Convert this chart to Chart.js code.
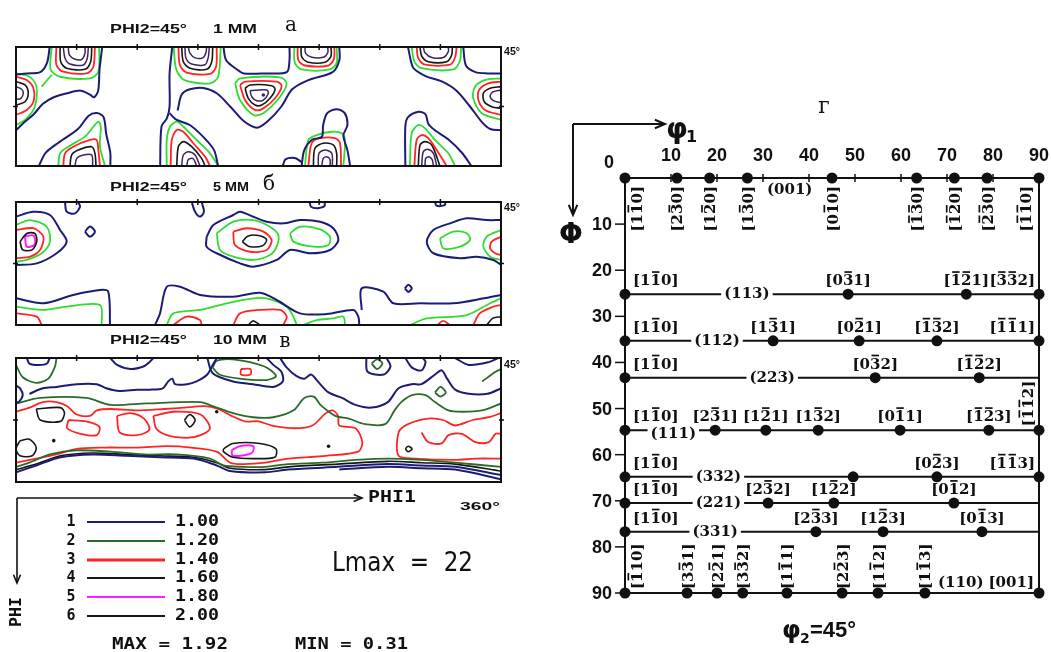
<!DOCTYPE html>
<html>
<head>
<meta charset="utf-8">
<script src="https://cdn.jsdelivr.net/npm/chart.js@4.4.1/dist/chart.umd.min.js"></script>
<style>
  html, body { margin: 0; padding: 0; background: #fff; }
  #wrap { position: relative; width: 1051px; height: 652px; overflow: hidden; background: #fff; }
  #wrap canvas { position: absolute; left: 0; top: 0; }
</style>
</head>
<body>
<div id="wrap">
  <canvas id="odfA" width="1051" height="652"></canvas>
  <canvas id="odfB" width="1051" height="652"></canvas>
  <canvas id="odfC" width="1051" height="652"></canvas>
  <canvas id="scheme" width="1051" height="652"></canvas>
</div>
<script>
// ===== ODF sections, phi2 = 45°, contour lines as [phi1, PHI] in degrees =====

// --- 1 mm ---
const a_level1 = [
  [[0,21],[8,20],[18,19],[23,12],[25,0]],
  [[0,63],[5,58],[13,51],[20,43],[28,38],[38,35],[48,33],[55,36],[58,38],[61,33],[62,17],[64,0]],
  [[116,0],[114,20],[114,45],[112,54],[108,60],[107,90]],
  [[114,50],[119,55],[129,59],[139,68],[147,78],[150,90]],
  [[154,0],[156,10],[164,17],[169,20],[185,20],[201,19],[203,10],[203,0]],
  [[120,48],[123,36],[129,32],[139,31],[149,35],[159,45],[169,56],[179,61],[187,56],[197,45],[205,32],[217,25],[235,19],[240,10],[240,0]],
  [[291,0],[293,10],[295,16],[304,22],[316,26],[327,33],[337,45],[346,57],[352,62],[360,63]],
  [[332,0],[334,14],[341,19],[350,20],[360,20]],
  [[17,90],[22,80],[32,72],[46,62],[54,52],[60,50],[65,53],[67,66],[70,80],[70,90]],
  [[212,90],[214,78],[220,70],[227,68],[228,59],[231,50],[238,47],[244,50],[246,59],[243,67],[246,78],[248,90]],
  [[198,90],[200,85],[207,84],[212,87]],
  [[289,90],[289,60],[291,53],[299,49],[304,51],[306,58],[311,63],[321,70],[331,80],[338,90]]
];
const a_level2 = [
  [[26.5,0],[25.7,17],[32.7,22.5],[54.9,23.7],[61.1,18.7],[61.8,0]],
  [[19,30],[26.5,21]],
  [[0,20],[9,22],[15,29],[14,45],[7,55],[0,59]],
  [[117,0],[119,17],[125,25],[144,27.5],[150,22.5],[152,0]],
  [[162.6,27.5],[166.3,23.7],[196,22.9],[200.9,27.5],[196,37.6],[183.6,50.1],[176.2,51.4],[166.3,40.1],[162.6,27.5]],
  [[206.6,0],[207,12],[212,17],[233,17],[238,12],[238,0]],
  [[293.7,0],[295.7,11],[301,16],[324.6,17],[329.6,10],[330.3,0]],
  [[360,23.7],[348,25],[340.7,30],[339.4,38.8],[345.7,50.1],[360,55.2]],
  [[31.4,90],[32.7,80.4],[38.8,75.4],[51.2,67.8],[57.4,60.3],[61.1,56.5],[62.9,60.3],[62.3,75.4],[66.1,90]],
  [[111.9,90],[111.9,70.3],[114.3,60.3],[119.3,56.5],[124.2,60.3],[134.1,70.3],[144,80.4],[150.2,90]],
  [[214.5,90],[217,70.3],[223.2,66.6],[234.4,64.1],[241.8,65.3],[244.2,70.3],[243,90]],
  [[292.4,90],[293.7,65.3],[298.6,59],[303.6,61.5],[311,70.3],[320.9,80.4],[325.9,90]]
];
const a_level3 = [
  [[30,0],[30,13.6],[35,18.7],[52.5,19.9],[57.4,14.9],[58.6,0]],
  [[0,22.4],[7.9,25],[12.9,31.2],[12.9,41.4],[7.9,47.6],[0,51.4]],
  [[120.5,0],[121.7,13.6],[126.7,19.4],[144,20.4],[148.5,14.9],[149,0]],
  [[166.3,28.7],[170,26.2],[193.5,26.2],[197.2,29.5],[192.3,38.8],[183.6,46.4],[177.4,47.6],[170,40.1],[166.3,28.7]],
  [[209,0],[209.6,10],[214.5,14],[231.8,14],[236,9],[236.3,0]],
  [[297.4,0],[298.6,8.5],[303.6,13.4],[322.2,13.4],[325.9,7.9],[327.1,0]],
  [[360,26.2],[350.6,27.5],[343.7,32.5],[343.2,40.1],[348.1,47.6],[360,51.4]],
  [[35.1,90],[36.4,80.4],[42.5,75.4],[54.9,70.3],[59.9,70.3],[61.1,77.9],[62.3,90]],
  [[114.8,90],[115.6,70.3],[119.3,62.8],[124.2,64.1],[131.6,72.8],[140.3,82.9],[144,90]],
  [[217,90],[219.5,72.8],[225.7,69],[236.8,69],[240.5,72.8],[241.3,90]],
  [[295.7,90],[297.4,70.3],[301.1,66.6],[306,69],[312.3,77.9],[319.7,90]]
];
const a_level4 = [
  [[32.7,0],[33.2,11.1],[37.6,16.1],[51.2,16.9],[55.4,11.1],[56.2,0]],
  [[0,26.2],[6.7,28.7],[9.1,35],[6.7,41.4],[0,43.9]],
  [[123,0],[124.2,11.1],[129.2,16.1],[141.5,16.9],[145.3,11.1],[146,0]],
  [[170,31.2],[173.7,28.7],[189.8,29.3],[192.3,32],[188.5,38.8],[182.4,43.9],[177.4,43.9],[172.4,38.8],[170,31.2]],
  [[211.6,0],[212.1,7.5],[217,11.5],[229.4,11.5],[233.8,7],[233.8,0]],
  [[299.9,0],[301.1,6.8],[306,11.1],[319.7,11.1],[323.4,6],[323.9,0]],
  [[360,30],[351.9,31.2],[346.9,35],[347.6,41.4],[353.1,45.1],[360,46.4]],
  [[40.1,90],[41.3,81.7],[46.2,77.9],[56.2,75.4],[58.6,80.4],[59.4,90]],
  [[119.3,90],[120.5,75.4],[124.2,71.6],[130.4,75.4],[137.8,84.2],[140.3,90]],
  [[220.7,90],[221.9,76.6],[228.1,72.8],[235.5,74.1],[238,80.4],[238,90]],
  [[298.6,90],[299.9,74.1],[303.6,71.6],[308.6,74.1],[314.7,90]]
];
const a_level6 = [
  [[35.1,0],[36.4,8.5],[40.1,12.9],[50,13.6],[52.9,8.5],[53.7,0]],
  [[38.8,0],[39.6,6],[43.8,9.3],[48.8,9.3],[51.2,4.8],[51.2,0]],
  [[0,30],[4.2,32],[5.4,35],[3.7,38.8],[0,39.6]],
  [[125.4,0],[126.2,8.5],[130.4,12.9],[140.3,13.4],[142.7,7.9],[143.5,0]],
  [[127.9,0],[129.2,4.9],[132.9,8.2],[138.6,8.2],[141,4.3],[141.5,0]],
  [[173.7,33],[186.1,32.5],[187.3,35],[183.6,40.1],[178.7,40.6],[175,37.6],[173.7,33]],
  [[214.5,0],[215,4.8],[219.5,7.8],[228.1,7.8],[231.4,4.3],[231.4,0]],
  [[302.3,0],[303.6,4.3],[308.6,7.9],[317.2,7.9],[320.9,3.5],[320.9,0]],
  [[360,32.5],[354.3,33.8],[351.9,37.1],[354.3,40.6],[360,42.1]],
  [[43.8,90],[45.1,84.2],[50,81.7],[56.2,81.7],[56.9,90]],
  [[123,90],[124.2,81.7],[127.9,79.2],[132.9,81.7],[136.6,90]],
  [[126.7,90],[127.9,85],[131.6,84.5],[134.1,90]],
  [[224.4,90],[224.9,80.4],[229.4,77.9],[234.4,80.4],[234.8,90]],
  [[226.9,90],[228.1,84.2],[230.6,83],[233.1,85],[233.1,90]],
  [[301.1,90],[302.3,79.2],[305.6,77.4],[309.8,80.4],[312.3,90]],
  [[303.6,90],[304.1,84.2],[306.6,83],[309,85.4],[309.8,90]]
];
const a_maxima = [[183.6,36.3]];

// --- 5 mm ---
const b_level1 = [
  [[0,10.7],[12.8,7.1],[25.2,9.5],[32.7,20.5],[37.6,29],[30.2,37.5],[15.4,44.9],[0,46.1]],
  [[36.4,0],[37.6,7.1],[43.8,8.3],[47.5,3.4],[46.2,0]],
  [[51.2,21.7],[54.9,18],[58.6,21.7],[54.9,25.4],[51.2,21.7]],
  [[130.4,0],[132.9,7.1],[136.6,10.7],[139.5,7.1],[137.8,0]],
  [[218,0],[219,3.5],[224,4.5],[229,3],[229,0]],
  [[311,0],[312,2.5],[315,3],[318.5,2],[318.5,0]],
  [[141.5,25.4],[146.5,16.8],[161.3,9.5],[166.3,7.1],[176.2,10.8],[186.1,14.4],[198.4,15.6],[210.8,13.2],[225.7,14.4],[235.5,19.2],[239.3,27.8],[233.1,35.1],[218.2,37.5],[203.4,35.1],[193.5,42.4],[176.2,47.3],[166.3,44.9],[149,37.5],[141.5,32.7],[141.5,25.4]],
  [[360,13.2],[349.4,13.2],[334.6,11.9],[322.2,15.6],[309.8,20.5],[304.9,29],[309.8,37.5],[329.6,41.2],[341.9,40],[354.3,42.4],[360,46.1]],
  [[288.6,63.2],[291.2,60.6],[293.8,63.2],[291.2,65.8],[288.6,63.2]],
  [[0,70.5],[20.3,74.1],[42.5,68],[62.3,64.4],[68.5,65.6],[69.8,90]],
  [[103.2,90],[106.9,81.5],[111.9,62],[121.7,62],[136.6,68],[161.3,69.3],[181.1,66.4],[193.5,71.7],[210.8,81.5],[230.6,82],[250.4,79],[254.1,83.9],[254.8,90]],
  [[256.6,79],[256.6,63.2],[272.6,65.6],[280.1,74.1],[299.9,74.1],[324.6,74.1],[347.3,70.5],[360,68]]
];
const b_level2 = [
  [[0,16.8],[10.4,13.2],[22.8,18.1],[25.2,29],[19.1,37.5],[7.9,42.4],[0,43.7]],
  [[149,22.9],[161.3,14.4],[176.2,13.2],[188.5,18.1],[194.7,24.1],[193.5,32.7],[188.5,38.8],[176.2,42.4],[161.3,40],[151.4,35.1],[149,22.9]],
  [[203.4,22.9],[210.8,18.1],[225.7,20],[233.1,25.4],[231.8,31.5],[220.7,32.7],[205.9,29],[203.4,22.9]],
  [[314.7,26.6],[324.6,21.7],[334.6,22.9],[337,27.8],[329.6,32.7],[317.2,33.9],[314.7,26.6]],
  [[360,20.5],[349.4,25.4],[346.9,32.7],[351.9,40],[360,42.4]],
  [[0,76.6],[20.3,79],[37.6,76.6],[62.3,75.4],[63.6,90]],
  [[111.9,90],[116.8,81.5],[136.6,79],[156.4,74.1],[176.2,70.5],[186.1,70.5],[201,76.6],[205.9,83.9],[208.4,90]],
  [[213.3,90],[223.2,86.4],[235.5,85.2],[243,83.9],[244.2,90]],
  [[292.4,90],[304.9,85.2],[334.6,82.7],[351.9,74.1],[360,70.5]]
];
const b_level3 = [
  [[0,20.5],[12.8,19.2],[20.3,25.4],[17.8,35.1],[10.4,40],[0,41.2]],
  [[161.3,21.7],[171.3,19.2],[183.6,21.7],[189.8,27.8],[186.1,35.1],[173.7,36.4],[162.6,31.5],[161.3,21.7]],
  [[360,25.4],[353.1,29],[351.9,33.9],[355.6,37.5],[360,38.8]],
  [[0,81.5],[15.4,83.9],[19.1,90]],
  [[116.8,90],[126.7,83.9],[136.6,86.4],[137.8,90]],
  [[161.3,90],[166.3,81.5],[181.1,79],[196,79],[201,83.9],[198.4,90]],
  [[313,90],[317,87],[322,90]],
  [[339.5,90],[344.2,81.5],[354.3,76.6],[360,75.4]]
];
const b_level4 = [
  [[3,29],[8,23],[14,23],[15.4,29],[12,35],[5,35],[3,29]],
  [[168,29],[172,25],[180,24.5],[186,27.5],[183,32],[173,32.5],[168,29]],
  [[172.4,90],[176,87],[181.1,90]],
  [[349.4,90],[354,85],[360,84]]
];
const b_level5 = [
  [[6.7,25],[13,24.5],[14,31],[8,32.7],[6.7,25]]
];

// --- 10 mm ---
const c_level1 = [
  [[10,26],[20,22],[30,21],[45,19],[60,19],[67,22],[77,24],[90,23],[99,23],[109,22],[113,17],[116,15],[118,19],[127,19],[134,17],[142,12],[146,5],[149,0]],
  [[196,0],[201,7],[208,13],[214,15],[219,12],[224,17],[232,25],[242,29],[252,34],[264,36],[276,32],[284,22],[294,19],[301,19],[311,12],[316,9],[320,15],[326,23],[336,26],[350,26],[360,22]],
  [[8,0],[10,4],[17,5],[23,4],[25,0]],
  [[0,20],[3,22],[5,27],[2,32],[0,32]],
  [[70,0],[75,5],[85,8],[95,6],[99,3],[102,0]],
  [[142,0],[146,11],[161,17],[176,19],[191,21],[198,17],[197,10],[191,5],[186,0]],
  [[260,0],[261,10],[273,12],[278,6],[275,0]],
  [[289,0],[294,7],[301,9],[304,3],[302,0]],
  [[326,0],[336,5],[351,3],[358,0]],
  [[0,83],[15,78],[33,72],[57,70],[82,71],[107,72],[132,73],[149,78],[159,82],[185,83],[202,81],[239,79],[276,77],[301,78],[326,79],[360,85]],
  [[240,81],[276,79],[301,80],[326,81],[360,88]]
];
const c_level2 = [
  [[0,33],[18,29],[52,29],[70,34],[97,33],[137,32],[146,35],[161,40],[176,43],[191,43],[206,38],[214,29],[221,28],[226,34],[237,42],[247,44],[259,48],[274,48],[281,38],[286,32],[294,27],[304,27],[311,32],[321,38],[331,39],[346,38],[360,33]],
  [[0,5],[5,14],[15,18],[24,15],[29,6],[30,0]],
  [[146,7],[149,2],[161,1],[184,6],[193,13],[186,16],[166,15],[151,12],[146,7]],
  [[264,4],[268,1],[272,4],[268,8],[264,4]],
  [[311,25],[315,21],[319,25],[315,28],[311,25]],
  [[346,17],[356,10],[360,8]],
  [[0,79],[10,76],[25,70],[45,67],[70,68],[95,70],[119,70],[144,73],[154,78],[169,79],[185,79],[202,77],[227,76],[252,74],[276,73],[301,74],[326,76],[360,79]]
];
const c_level3 = [
  [[0,39],[10,36],[20,32],[30,32],[38,35],[45,41],[55,42],[60,38],[70,37],[90,38],[110,37],[125,36],[140,35],[150,37],[160,42],[170,46],[180,46],[190,49],[207,51],[220,49],[230,40],[235,38],[239,42],[240,49],[252,51],[257,61],[254,68],[230,71],[202,73],[185,76],[169,77],[159,76],[149,68],[130,65],[112,64],[90,65],[65,65],[45,66],[30,70],[15,73],[0,76]],
  [[360,40],[351,43],[339,45],[326,49],[317,45],[306,44],[291,48],[284,54],[284,71],[296,73],[326,74],[341,73],[360,73]],
  [[167,8],[174,8],[174,12],[167,12],[167,8]],
  [[75,42],[85,40],[95,44],[99,52],[90,56],[77,54],[75,42]],
  [[102,42],[117,39],[137,41],[144,51],[137,56],[127,58],[112,56],[104,51],[102,42]],
  [[39,45],[52,46],[62,50],[60,56],[48,55],[38,51],[39,45]],
  [[301,54],[306,61],[316,62],[321,56],[331,55],[341,61],[351,61],[356,55],[360,55]]
];
const c_level4 = [
  [[15,37],[33,36],[36,40],[33,46],[18,45],[15,37]],
  [[3,60],[10,59],[15,65],[12,71],[3,71],[0,66],[3,60]],
  [[125,45],[129,41],[133,45],[129,50],[125,45]],
  [[154,66],[161,62],[181,62],[193,66],[192,72],[176,73],[161,72],[154,68],[154,66]],
  [[289,66],[291,64],[294,66],[291,68],[289,66]],
  [[0,81],[15,77],[33,71],[57,69],[82,70],[107,71],[132,72],[149,76],[159,80],[185,81],[202,79],[239,77],[276,75],[301,76],[326,77],[360,82]]
];
const c_level5 = [
  [[160,67],[166,64],[176,64],[175,69],[161,71],[160,67]]
];
const c_maxima = [[28,60],[149,39],[232,64]];

// contour legend
const levelNumbers = ['1','2','3','4','5','6'];
const levelValues = ['1.00','1.20','1.40','1.60','1.80','2.00'];

// ===== ideal orientations in the phi2 = 45° section =====
const rowPhi = [0, 25.2, 35.3, 43.3, 54.7, 64.8, 70.5, 76.7, 90];
const rowPlanes = ['(001)','(113)','(112)','(223)','(111)','(332)','(221)','(331)','(110)'];
const rowPhi1 = [
  [0, 11.3, 18.4, 26.6, 45, 63.4, 71.6, 78.7, 90],
  [0, 48.5, 74.2, 90],
  [0, 32.2, 50.9, 67.8, 90],
  [0, 54.4, 77],
  [0, 19.6, 30.6, 42, 59.8, 79.1, 90],
  [0, 49.6, 67.8, 90],
  [0, 31.1, 45.4, 71.5],
  [0, 41.5, 56.1, 77.6],
  [0, 13.5, 20, 25.6, 35.2, 47.2, 55, 65.2, 90]
];
// directions [uvw]; '-' marks a negative (barred) index
const rowDirections = [
  ['1-10','2-30','1-20','1-30','0-10','-1-30','-1-20','-2-30','-1-10'],
  ['1-10','0-31','-1-21','-3-32'],
  ['1-10','1-31','0-21','-1-32','-1-11'],
  ['1-10','0-32','-1-22'],
  ['1-10','2-31','1-21','1-32','0-11','-1-23','-1-12'],
  ['1-10','','0-23','-1-13'],
  ['1-10','2-32','1-22','0-12'],
  ['1-10','2-33','1-23','0-13'],
  ['-110','3-31','2-21','3-32','1-11','2-23','1-12','1-13','001']
];
const phi1Ticks = [10,20,30,40,50,60,70,80,90];
const phiTicks = [10,20,30,40,50,60,70,80,90];

// ===== drawing =====
const PAGE_W = 1051, PAGE_H = 652;
const odfTicks = [45,90,135,180,225,270,315];

const colNavy = '#1c1c74', colLime = '#2fdc2f', colDarkGreen = '#2c6a2c',
      colRed = '#ff2424', colBlack = '#161616', colInner = '#40235e', colMagenta = '#ff1eff';

const odfFrame = {
  id: 'odfFrame',
  afterDatasetsDraw(chart) {
    const { ctx, chartArea: a, scales: { x, y } } = chart;
    ctx.save();
    ctx.strokeStyle = '#111';
    ctx.lineWidth = 2;
    ctx.strokeRect(a.left, a.top, a.right - a.left, a.bottom - a.top);
    ctx.lineWidth = 1.5;
    odfTicks.forEach(v => {
      const px = x.getPixelForValue(v);
      ctx.beginPath(); ctx.moveTo(px, a.top - 3); ctx.lineTo(px, a.top + 3); ctx.stroke();
    });
    const py = y.getPixelForValue(45);
    ctx.beginPath();
    ctx.moveTo(a.left - 3, py); ctx.lineTo(a.left + 2, py);
    ctx.moveTo(a.right - 2, py); ctx.lineTo(a.right + 3, py);
    ctx.stroke();
    ctx.restore();
  }
};

function contourSets(lines, color, width) {
  return lines.map(pts => ({
    data: pts, showLine: true, borderColor: color, backgroundColor: color,
    borderWidth: width, pointRadius: 0, tension: 0.3, fill: false
  }));
}
function pointSet(pts, color) {
  return { data: pts, showLine: false, pointRadius: 1.8, pointBackgroundColor: color, pointBorderWidth: 0 };
}

function odfSection(id, box, datasets) {
  return new Chart(document.getElementById(id), {
    type: 'scatter',
    data: { datasets },
    options: {
      responsive: false, animation: false, devicePixelRatio: 1, events: [],
      layout: { padding: { left: box[0], top: box[1], right: PAGE_W - box[2], bottom: PAGE_H - box[3] } },
      scales: {
        x: { type: 'linear', min: 0, max: 360, display: false },
        y: { type: 'linear', min: 0, max: 90, reverse: true, display: false }
      },
      plugins: { legend: { display: false }, tooltip: { enabled: false } }
    },
    plugins: [odfFrame]
  });
}

odfSection('odfA', [16, 47, 501, 166], [
  ...contourSets(a_level1, colNavy, 2),
  ...contourSets(a_level2, colLime, 1.8),
  ...contourSets(a_level3, colRed, 1.8),
  ...contourSets(a_level4, colBlack, 1.6),
  ...contourSets(a_level6, colInner, 1.5),
  pointSet(a_maxima, colInner)
]);
odfSection('odfB', [16, 202, 501, 325], [
  ...contourSets(b_level1, colNavy, 2),
  ...contourSets(b_level2, colLime, 1.8),
  ...contourSets(b_level3, colRed, 1.8),
  ...contourSets(b_level4, colBlack, 1.6),
  ...contourSets(b_level5, colMagenta, 2)
]);
odfSection('odfC', [16, 358, 501, 482], [
  ...contourSets(c_level1, colNavy, 2),
  ...contourSets(c_level2, colDarkGreen, 1.8),
  ...contourSets(c_level3, colRed, 1.8),
  ...contourSets(c_level4, colBlack, 1.6),
  ...contourSets(c_level5, colMagenta, 2),
  pointSet(c_maxima, colBlack)
]);

// ----- text helpers -----
function fitText(ctx, s, x, y, w, font, align) {
  ctx.save();
  ctx.font = font;
  ctx.textBaseline = 'middle';
  ctx.textAlign = 'left';
  const m = ctx.measureText(s).width;
  const x0 = align === 'center' ? x - w / 2 : align === 'right' ? x - w : x;
  ctx.translate(x0, y);
  ctx.scale(w / m, 1);
  ctx.fillText(s, 0, 0);
  ctx.restore();
}
function arrow(ctx, x1, y1, x2, y2, head) {
  const ang = Math.atan2(y2 - y1, x2 - x1);
  ctx.beginPath(); ctx.moveTo(x1, y1); ctx.lineTo(x2, y2); ctx.stroke();
  ctx.beginPath();
  ctx.moveTo(x2 - head * Math.cos(ang - 0.4), y2 - head * Math.sin(ang - 0.4));
  ctx.lineTo(x2, y2);
  ctx.lineTo(x2 - head * Math.cos(ang + 0.4), y2 - head * Math.sin(ang + 0.4));
  ctx.stroke();
}
function parseMiller(code) {
  const out = []; let neg = false;
  for (const ch of code) {
    if (ch === '-') { neg = true; continue; }
    out.push({ d: ch, neg }); neg = false;
  }
  return out;
}
function millerWidth(ctx, code) {
  return parseMiller(code).reduce((s, p) => s + ctx.measureText(p.d).width, 0)
    + ctx.measureText('[').width + ctx.measureText(']').width;
}
function drawMiller(ctx, code, x, y, align) {
  const parts = parseMiller(code);
  const total = millerWidth(ctx, code);
  let cx = align === 'left' ? x : align === 'right' ? x - total : x - total / 2;
  ctx.textAlign = 'left';
  ctx.textBaseline = 'alphabetic';
  ctx.fillText('[', cx, y); cx += ctx.measureText('[').width;
  parts.forEach(p => {
    const w = ctx.measureText(p.d).width;
    ctx.fillText(p.d, cx, y);
    if (p.neg) ctx.fillRect(cx + 1.5, y - 14, w - 3, 1.7);
    cx += w;
  });
  ctx.fillText(']', cx, y);
}
function drawMillerUp(ctx, code, x, y, align) {
  ctx.save();
  ctx.translate(x, y);
  ctx.rotate(-Math.PI / 2);
  drawMiller(ctx, code, 0, 5.5, align);
  ctx.restore();
}

const MILLER_FONT = 'bold 15px "DejaVu Serif"';
const planeAt = [35.8, 26.5, 20, 32, 10.5, 20.3, 20.3, 19.6, null];
const MONO = 'bold 15px "DejaVu Sans Mono"';

// titles, legend and annotations for the ODF sections
function drawOdfNotes(ctx) {
  ctx.save();
  ctx.fillStyle = '#111';
  const heads = [
    { y: 29, mm: '1 MM', mmW: 44, let: 'а', lx: 291, ly: 26 },
    { y: 187, mm: '5 MM', mmW: 36, let: 'б', lx: 269, ly: 185 },
    { y: 340, mm: '10 MM', mmW: 54, let: 'в', lx: 285, ly: 342 }
  ];
  heads.forEach(h => {
    fitText(ctx, 'PHI2=45°', 110, h.y, 77, 'bold 13px "Liberation Sans"', 'left');
    fitText(ctx, h.mm, 213, h.y, h.mmW, 'bold 13px "Liberation Sans"', 'left');
    ctx.font = '20px "DejaVu Serif"';
    ctx.textAlign = 'center'; ctx.textBaseline = 'middle';
    ctx.fillText(h.let, h.lx, h.ly);
  });
  [52, 208, 365].forEach(y => fitText(ctx, '45°', 504, y, 16, 'bold 10px "Liberation Sans"', 'left'));

  ctx.strokeStyle = '#111'; ctx.lineWidth = 1.6;
  arrow(ctx, 17, 498, 362, 498, 9);
  arrow(ctx, 17, 498, 17, 583, 9);
  fitText(ctx, 'PHI1', 368, 498, 48, MONO, 'left');
  fitText(ctx, '360°', 460, 507, 40, 'bold 11px "Liberation Sans"', 'left');
  ctx.save();
  ctx.translate(17, 612); ctx.rotate(-Math.PI / 2);
  fitText(ctx, 'PHI', 0, 0, 30, MONO, 'center');
  ctx.restore();

  const rowsY = [522, 541, 560, 578, 597, 616];
  const legendColors = [colNavy, colDarkGreen, colRed, colBlack, colMagenta, colBlack];
  const legendWidths = [2, 2, 3, 2, 2, 2];
  rowsY.forEach((y, i) => {
    fitText(ctx, levelNumbers[i], 71, y, 9, MONO, 'center');
    ctx.strokeStyle = legendColors[i]; ctx.lineWidth = legendWidths[i];
    ctx.beginPath(); ctx.moveTo(87, y); ctx.lineTo(165, y); ctx.stroke();
    fitText(ctx, levelValues[i], 175, y, 44, MONO, 'left');
  });
  fitText(ctx, 'Lmax  =  22', 332, 564, 141, '26px "DejaVu Sans"', 'left');
  fitText(ctx, 'MAX = 1.92', 112, 645, 116, MONO, 'left');
  fitText(ctx, 'MIN = 0.31', 295, 645, 113, MONO, 'left');
  ctx.restore();
}

// axes, labels and captions of the orientation map
const schemeNotes = {
  id: 'schemeNotes',
  afterDatasetsDraw(chart) {
    const { ctx, chartArea: a, scales: { x, y } } = chart;
    ctx.save();
    ctx.fillStyle = '#111';
    ctx.strokeStyle = '#111';

    // tick marks and tick labels
    ctx.lineWidth = 1.5;
    ctx.font = 'bold 18px "Liberation Sans"';
    ctx.textBaseline = 'middle';
    phi1Ticks.forEach(v => {
      const px = x.getPixelForValue(v);
      ctx.beginPath(); ctx.moveTo(px, a.top - 4); ctx.lineTo(px, a.top + 4); ctx.stroke();
      ctx.textAlign = 'center';
      ctx.fillText(String(v), px, a.top - 22);
    });
    ctx.textAlign = 'center';
    ctx.fillText('0', a.left - 16, a.top - 15);
    phiTicks.forEach(v => {
      const py = y.getPixelForValue(v);
      ctx.beginPath(); ctx.moveTo(a.left - 10, py); ctx.lineTo(a.left, py); ctx.stroke();
      ctx.textAlign = 'right';
      ctx.fillText(String(v), a.left - 13, py + 1);
    });

    // plane labels on the lines
    ctx.font = MILLER_FONT;
    rowPlanes.forEach((pl, i) => {
      const py = y.getPixelForValue(rowPhi[i]);
      if (i === 0) {
        ctx.textAlign = 'center'; ctx.textBaseline = 'middle';
        ctx.fillText(pl, x.getPixelForValue(planeAt[0]), py + 12);
      } else if (i < 8) {
        const px = x.getPixelForValue(planeAt[i]);
        const w = ctx.measureText(pl).width;
        const dy = i === 4 ? 4 : 0;
        ctx.fillStyle = '#fff';
        ctx.fillRect(px - w / 2 - 3, py + dy - 8, w + 6, 16);
        ctx.fillStyle = '#111';
        ctx.textAlign = 'center'; ctx.textBaseline = 'middle';
        ctx.fillText(pl, px, py + dy);
      }
    });

    // direction labels
    rowDirections.forEach((dirs, i) => {
      const py = y.getPixelForValue(rowPhi[i]);
      const last = dirs.length - 1;
      dirs.forEach((code, j) => {
        if (!code) return;
        const px = x.getPixelForValue(rowPhi1[i][j]);
        if (i === 0) {
          const off = j === 0 ? 11 : (j === last ? -14 : 0);
          drawMillerUp(ctx, code, px + off, py + 8, 'right');
        } else if (i === 8) {
          if (j === last) {
            const w = millerWidth(ctx, code);
            drawMiller(ctx, code, px - 5, py - 6, 'right');
            ctx.textAlign = 'right'; ctx.textBaseline = 'alphabetic';
            ctx.fillText('(110)', px - 5 - w - 5, py - 6);
          } else {
            drawMillerUp(ctx, code, px + (j === 0 ? 11 : 0), py - 4, 'left');
          }
        } else if (i === 4 && j === last) {
          drawMillerUp(ctx, code, px - 12, py - 4, 'left');
        } else {
          const align = j === 0 ? 'left' : (rowPhi1[i][j] === 90 ? 'right' : 'center');
          const ax = j === 0 ? px + 8 : (align === 'right' ? px - 4 : px);
          drawMiller(ctx, code, ax, py - 9, align);
        }
      });
    });

    // axis arrows and captions
    ctx.lineWidth = 2;
    arrow(ctx, 573, 124, 665, 124, 11);
    arrow(ctx, 573, 124, 573, 215, 11);
    ctx.textAlign = 'left'; ctx.textBaseline = 'alphabetic';
    ctx.font = 'bold 28px "DejaVu Sans"';
    ctx.fillText('φ', 666, 138);
    ctx.font = 'bold 16px "DejaVu Sans"';
    ctx.fillText('1', 686, 142);
    ctx.font = 'bold 28px "DejaVu Sans"';
    ctx.textAlign = 'center';
    ctx.fillText('Φ', 571, 243);
    ctx.font = '22px "DejaVu Serif"';
    ctx.textBaseline = 'middle';
    ctx.fillText('г', 824, 107);
    ctx.textAlign = 'left'; ctx.textBaseline = 'alphabetic';
    ctx.font = 'bold 24px "DejaVu Sans"';
    ctx.fillText('φ', 782, 638);
    ctx.font = 'bold 14px "DejaVu Sans"';
    ctx.fillText('2', 800, 643);
    ctx.font = 'bold 22px "Liberation Sans"';
    ctx.fillText('=45°', 810, 637);

    drawOdfNotes(ctx);
    ctx.restore();
  }
};

const schemeSets = [];
rowPhi.forEach((p, i) => {
  schemeSets.push({ data: [[0, p], [90, p]], showLine: true, borderColor: '#111', borderWidth: 2, pointRadius: 0, clip: false });
  schemeSets.push({ data: rowPhi1[i].map(v => [v, p]), showLine: false, pointRadius: 5.5, clip: false,
                    pointBackgroundColor: '#111', pointBorderColor: '#111', pointBorderWidth: 0 });
});
schemeSets.push({ data: [[0, 0], [0, 90]], showLine: true, borderColor: '#111', borderWidth: 2, pointRadius: 0, clip: false });
schemeSets.push({ data: [[90, 0], [90, 90]], showLine: true, borderColor: '#111', borderWidth: 2, pointRadius: 0, clip: false });

new Chart(document.getElementById('scheme'), {
  type: 'scatter',
  data: { datasets: schemeSets },
  options: {
    responsive: false, animation: false, devicePixelRatio: 1, events: [],
    layout: { padding: { left: 625, top: 178, right: PAGE_W - 1039, bottom: PAGE_H - 593 } },
    scales: {
      x: { type: 'linear', min: 0, max: 90, display: false },
      y: { type: 'linear', min: 0, max: 90, reverse: true, display: false }
    },
    plugins: { legend: { display: false }, tooltip: { enabled: false } }
  },
  plugins: [schemeNotes]
});
</script>
</body>
</html>
